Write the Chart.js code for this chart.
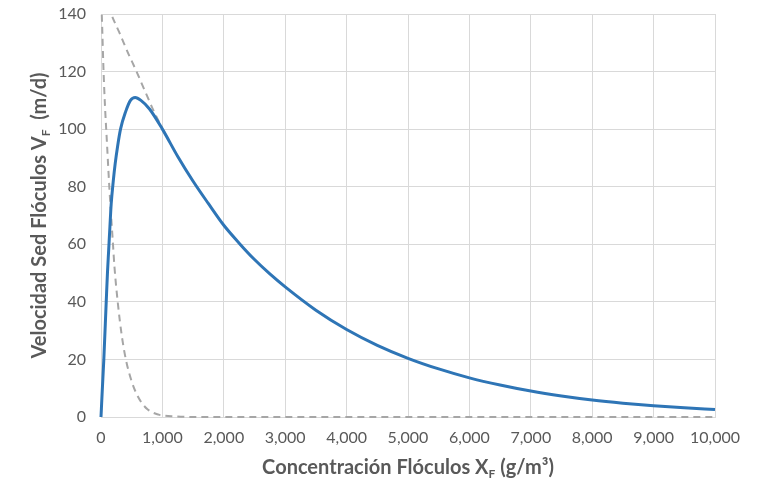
<!DOCTYPE html>
<html>
<head>
<meta charset="utf-8">
<script src="https://cdn.jsdelivr.net/npm/chart.js@4.4.1/dist/chart.umd.min.js"></script>
<style>
  html, body { margin: 0; padding: 0; background: #ffffff; }
  #wrap { width: 768px; height: 482px; }
</style>
</head>
<body>
<div id="wrap"><canvas id="c" width="768" height="482"></canvas></div>
<script>
// ---- Data ----
// Blue solid curve: settling velocity of flocs V_F (m/d) vs concentration X_F (g/m3)
const blueX = [0, 20, 46, 85, 105, 125, 145, 166, 200, 231, 270, 318, 400, 480, 557, 650, 790, 1000, 1250, 1500, 1750, 2000, 2250, 2500, 2750, 3000, 3500, 4000, 4500, 5000, 5500, 6000, 6500, 7000, 7500, 8000, 8500, 9000, 9500, 10000];
const blueY = [0, 9, 20, 40, 50, 58, 66, 74, 82, 88, 94, 100, 106, 110, 111, 110, 107, 100, 90.5, 81.9, 74.1, 66.6, 60.4, 54.7, 49.7, 45.2, 37.1, 30.4, 24.9, 20.4, 16.7, 13.6, 11.1, 9.0, 7.3, 5.9, 4.8, 3.9, 3.2, 2.6];

// Grey dashed curve 1 (steep decay near the origin)
const dash1X = [0, 20, 40, 65, 90, 138, 192, 220, 274, 340, 410, 490, 573, 660, 762, 870, 980, 1200, 1500, 10000];
const dash1Y = [148, 135, 121, 108, 98, 79, 61, 52, 39.6, 28, 19.5, 13, 8.3, 5, 2.6, 1.3, 0.6, 0.2, 0, 0];

// Grey dashed curve 2 (upper envelope, joins the blue curve near 1,000)
const dash2X = [120, 166, 300, 450, 573, 700, 870, 1000];
const dash2Y = [143, 140, 133.5, 126, 120.3, 114, 105.8, 100.3];

// Axis ranges / tick steps
const xRange = [0, 10000];
const yRange = [0, 140];
const xStep = 1000;
const yStep = 20;

const xTitleParts = ['Concentración Flóculos X', 'F', ' (g/m³)'];
const yTitleParts = ['Velocidad Sed Flóculos V', 'F', '  (m/d)'];

function pts(xs, ys) { return xs.map((x, i) => ({ x: x, y: ys[i] })); }

const TXT = '#595959';
const FONT = "Lato, 'Open Sans', 'Liberation Sans', sans-serif";

function drawSubTitle(ctx, parts, cx, cy, rotate) {
  const big = "bold 20px " + FONT;
  const small = "bold 12px " + FONT;
  ctx.save();
  ctx.translate(cx, cy);
  if (rotate) ctx.rotate(-Math.PI / 2);
  ctx.fillStyle = TXT;
  ctx.textBaseline = 'middle';
  ctx.textAlign = 'left';
  ctx.font = big; const w0 = ctx.measureText(parts[0]).width;
  ctx.font = small; const w1 = ctx.measureText(parts[1]).width;
  ctx.font = big; const w2 = ctx.measureText(parts[2]).width;
  let x = -(w0 + w1 + w2) / 2;
  ctx.font = big; ctx.fillText(parts[0], x, 0); x += w0;
  ctx.font = small; ctx.fillText(parts[1], x, 6); x += w1;
  ctx.font = big; ctx.fillText(parts[2], x, 0);
  ctx.restore();
}

const titlePlugin = {
  id: 'axisTitles',
  afterDraw(chart) {
    const ctx = chart.ctx;
    const a = chart.chartArea;
    drawSubTitle(ctx, xTitleParts, (a.left + a.right) / 2, 468, false);
    drawSubTitle(ctx, yTitleParts, 40, (a.top + a.bottom) / 2, true);
  }
};

new Chart(document.getElementById('c'), {
  type: 'scatter',
  data: {
    datasets: [
      {
        label: 'V_F',
        data: pts(blueX, blueY),
        showLine: true,
        borderColor: '#2E75B6',
        borderWidth: 3,
        pointRadius: 0,
        cubicInterpolationMode: 'monotone',
        clip: { left: 2, top: 0, right: 2, bottom: 4 },
        order: 0
      },
      {
        label: 'dash1',
        data: pts(dash1X, dash1Y),
        showLine: true,
        borderColor: '#A6A6A6',
        borderWidth: 2,
        borderDash: [7, 5],
        pointRadius: 0,
        cubicInterpolationMode: 'monotone',
        clip: { left: 2, top: 0, right: 0, bottom: 4 },
        order: 1
      },
      {
        label: 'dash2',
        data: pts(dash2X, dash2Y),
        showLine: true,
        borderColor: '#A6A6A6',
        borderWidth: 2,
        borderDash: [7, 5],
        pointRadius: 0,
        cubicInterpolationMode: 'monotone',
        clip: { left: 0, top: 0, right: 0, bottom: 0 },
        order: 2
      }
    ]
  },
  options: {
    responsive: false,
    devicePixelRatio: 1,
    animation: false,
    layout: { padding: { top: 14, right: 53, bottom: 0, left: 0 } },
    plugins: {
      legend: { display: false },
      tooltip: { enabled: false }
    },
    scales: {
      x: {
        type: 'linear',
        min: xRange[0], max: xRange[1],
        afterFit(scale) { scale.height = 65; scale.paddingLeft = 0; scale.paddingRight = 0; },
        grid: { color: '#D9D9D9', lineWidth: 1, drawTicks: false },
        border: { display: true, color: '#D9D9D9' },
        ticks: {
          stepSize: xStep,
          padding: 11,
          color: TXT,
          font: { family: FONT, size: 16 },
          maxRotation: 0,
          callback: v => v.toLocaleString('en-US')
        }
      },
      y: {
        type: 'linear',
        min: yRange[0], max: yRange[1],
        afterFit(scale) { scale.width = 101; scale.paddingTop = 0; scale.paddingBottom = 0; },
        grid: { color: '#D9D9D9', lineWidth: 1, drawTicks: false },
        border: { display: true, color: '#D9D9D9' },
        ticks: {
          stepSize: yStep,
          padding: 15,
          color: TXT,
          font: { family: FONT, size: 16 }
        }
      }
    }
  },
  plugins: [titlePlugin]
});
</script>
</body>
</html>
